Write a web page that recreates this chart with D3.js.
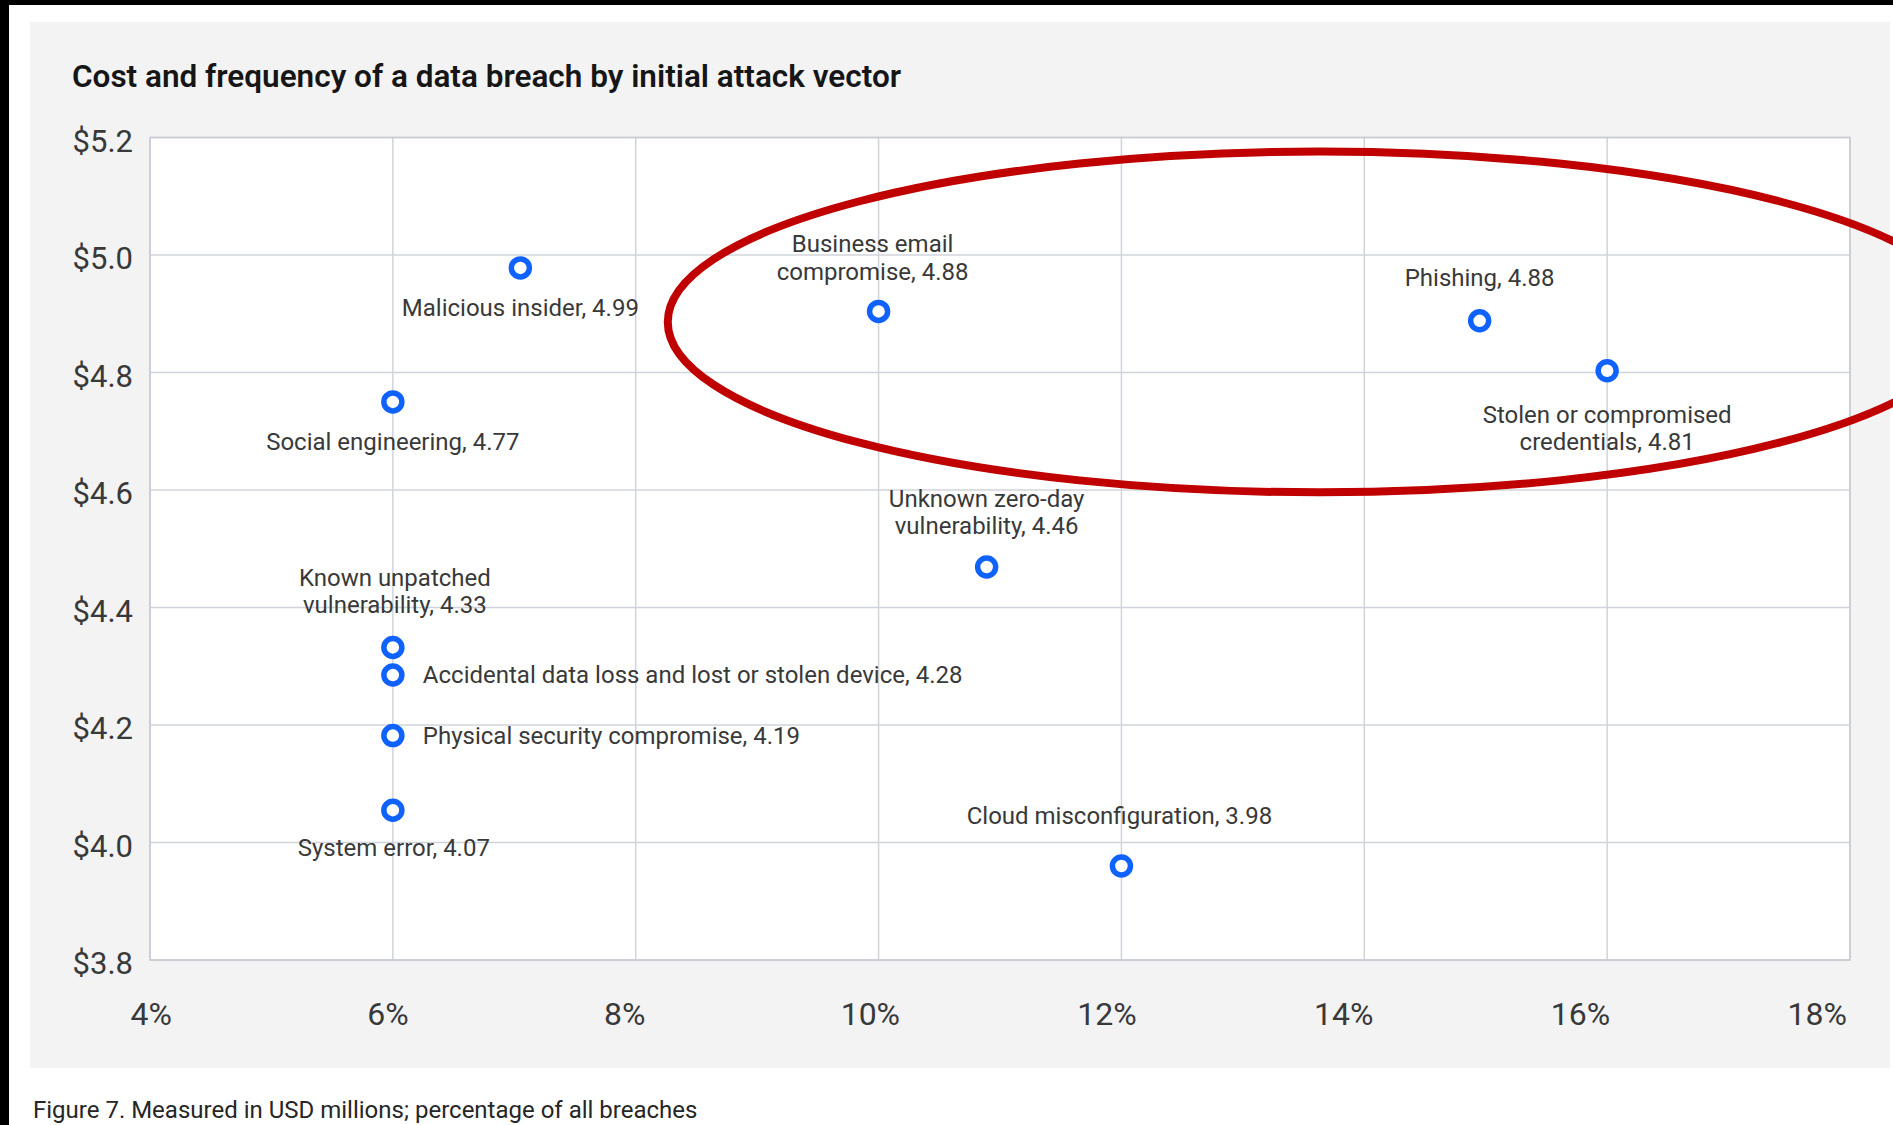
<!DOCTYPE html>
<html>
<head>
<meta charset="utf-8">
<script src="https://cdn.jsdelivr.net/npm/d3@7"></script>
<style>
  html, body { margin: 0; padding: 0; background: #fff; }
  svg { display: block; font-family: Roboto, "Noto Sans", sans-serif; }
</style>
</head>
<body>
<svg id="chart"></svg>
<script>
// chart values
const attackVectors = [
  "Malicious insider", "Business email compromise", "Phishing",
  "Stolen or compromised credentials", "Social engineering",
  "Unknown zero-day vulnerability", "Known unpatched vulnerability",
  "Accidental data loss and lost or stolen device",
  "Physical security compromise", "System error", "Cloud misconfiguration"
];
const frequencyPct = [7.05, 10.0, 14.95, 16.0, 6.0, 10.89, 6.0, 6.0, 6.0, 6.0, 12.0];
const costPlotted  = [4.978, 4.904, 4.888, 4.803, 4.750, 4.469, 4.332, 4.285, 4.182, 4.055, 3.960];
const costLabel    = ["4.99", "4.88", "4.88", "4.81", "4.77", "4.46", "4.33", "4.28", "4.19", "4.07", "3.98"];
const xTicks = [4, 6, 8, 10, 12, 14, 16, 18];
const yTicks = [3.8, 4.0, 4.2, 4.4, 4.6, 4.8, 5.0, 5.2];
// red highlight ellipse, in data units (centre % / $, radii % / $)
const highlightCx = 13.63, highlightCy = 4.886, highlightRx = 5.366, highlightRy = 0.29;

const titleText = "Cost and frequency of a data breach by initial attack vector";
const captionText = "Figure 7. Measured in USD millions; percentage of all breaches";

// layout
const canvasWidth = 1893;
const canvasHeight = 1125;
const plotLeft = 150, plotRight = 1850, plotTop = 137.5, plotBottom = 960;
const textColor = "#393939";
const gridColor = "#d0d4da";
const blue = "#0f62fe";

// label placement per point: anchor, dx, line centre offsets, where to wrap
const labelLayout = [
  {anchor: "middle", dx: 0,  dy: [40]},
  {anchor: "middle", dx: -6, dy: [-68, -40], wrap: "Business email"},
  {anchor: "middle", dx: 0,  dy: [-43]},
  {anchor: "middle", dx: 0,  dy: [44, 71], wrap: "Stolen or compromised"},
  {anchor: "middle", dx: 0,  dy: [40]},
  {anchor: "middle", dx: 0,  dy: [-68, -41], wrap: "Unknown zero-day"},
  {anchor: "middle", dx: 2,  dy: [-70, -43], wrap: "Known unpatched"},
  {anchor: "start",  dx: 30, dy: [0]},
  {anchor: "start",  dx: 30, dy: [0]},
  {anchor: "middle", dx: 1,  dy: [37]},
  {anchor: "middle", dx: -2, dy: [-50]}
];

var xScaler = d3.scaleLinear().domain([4, 18]).range([plotLeft, plotRight]);
var yScaler = d3.scaleLinear().domain([3.8, 5.2]).range([plotBottom, plotTop]);
// x tick labels are left aligned on an even step below the plot
var xLabelScaler = d3.scaleLinear().domain([4, 18]).range([130, 1787]);

var svg = d3.select("#chart")
  .attr("width", canvasWidth)
  .attr("height", canvasHeight);

// page frame: black edges, grey panel
svg.append("rect").attr("width", canvasWidth).attr("height", canvasHeight).attr("fill", "#fff");
svg.append("rect").attr("x", 0).attr("y", 0).attr("width", canvasWidth).attr("height", 5).attr("fill", "#000");
svg.append("rect").attr("x", 0).attr("y", 0).attr("width", 9).attr("height", canvasHeight).attr("fill", "#000");
svg.append("rect").attr("x", 30).attr("y", 22).attr("width", 1860).attr("height", 1046).attr("fill", "#f3f3f3");

svg.append("text")
  .attr("x", 72).attr("y", 87)
  .attr("fill", "#161616")
  .style("font-size", "31.5px")
  .style("font-weight", 600)
  .text(titleText);

// plot area
svg.append("rect")
  .attr("x", plotLeft).attr("y", plotTop)
  .attr("width", plotRight - plotLeft).attr("height", plotBottom - plotTop)
  .attr("fill", "#fff");

var grid = svg.append("g");
grid.selectAll(".vgrid").data(xTicks).enter().append("line")
  .attr("x1", d => xScaler(d)).attr("x2", d => xScaler(d))
  .attr("y1", plotTop).attr("y2", plotBottom)
  .style("stroke", gridColor).style("stroke-width", 1.5);
grid.selectAll(".hgrid").data(yTicks).enter().append("line")
  .attr("x1", plotLeft).attr("x2", plotRight)
  .attr("y1", d => yScaler(d)).attr("y2", d => yScaler(d))
  .style("stroke", gridColor).style("stroke-width", 1.5);
svg.append("rect")
  .attr("x", plotLeft).attr("y", plotTop)
  .attr("width", plotRight - plotLeft).attr("height", plotBottom - plotTop)
  .attr("fill", "none").style("stroke", "#c8ccd2").style("stroke-width", 1.5);

// axes (labels only)
var yAxis = svg.append("g")
  .attr("transform", "translate(" + plotLeft + ",0)")
  .call(d3.axisLeft(yScaler).tickValues(yTicks).tickSize(0).tickPadding(17)
    .tickFormat(d => "$" + d.toFixed(1)));
yAxis.select(".domain").remove();
yAxis.selectAll("text")
  .attr("dy", "0.45em")
  .attr("fill", textColor)
  .style("font-size", "31px")
  .style("font-family", "Roboto, sans-serif");

var xAxis = svg.append("g")
  .attr("transform", "translate(0,1013)")
  .call(d3.axisBottom(xLabelScaler).tickValues(xTicks).tickSize(0).tickPadding(0)
    .tickFormat(d => d + "%"));
xAxis.select(".domain").remove();
xAxis.selectAll("text")
  .attr("y", 0)
  .attr("dy", "0.36em")
  .attr("text-anchor", "start")
  .attr("fill", textColor)
  .style("font-size", "32px")
  .style("font-family", "Roboto, sans-serif");

// points
var pts = d3.range(attackVectors.length);
svg.append("g").selectAll("circle").data(pts).enter().append("circle")
  .attr("cx", i => xScaler(frequencyPct[i]))
  .attr("cy", i => yScaler(costPlotted[i]))
  .attr("r", 9)
  .attr("fill", "#fff")
  .style("stroke", blue)
  .style("stroke-width", 5.5);

// point labels
var labels = svg.append("g")
  .style("font-size", "24px")
  .attr("fill", textColor);
pts.forEach(function(i) {
  var lay = labelLayout[i];
  var full = attackVectors[i] + ", " + costLabel[i];
  var lines = [full];
  if (lay.wrap) {
    lines = [lay.wrap, attackVectors[i].slice(lay.wrap.length + 1) + ", " + costLabel[i]];
  }
  var px = xScaler(frequencyPct[i]);
  var py = yScaler(costPlotted[i]);
  lines.forEach(function(line, k) {
    labels.append("text")
      .attr("x", px + lay.dx)
      .attr("y", py + lay.dy[k])
      .attr("dy", "0.35em")
      .attr("text-anchor", lay.anchor)
      .text(line);
  });
});

// highlight ellipse
svg.append("ellipse")
  .attr("cx", xScaler(highlightCx))
  .attr("cy", yScaler(highlightCy))
  .attr("rx", xScaler(4 + highlightRx) - xScaler(4))
  .attr("ry", yScaler(5.0 - highlightRy) - yScaler(5.0))
  .attr("fill", "none")
  .style("stroke", "#c00000")
  .style("stroke-width", 8);

svg.append("text")
  .attr("x", 33).attr("y", 1118)
  .attr("fill", "#262626")
  .style("font-size", "24px")
  .text(captionText);
</script>
</body>
</html>
